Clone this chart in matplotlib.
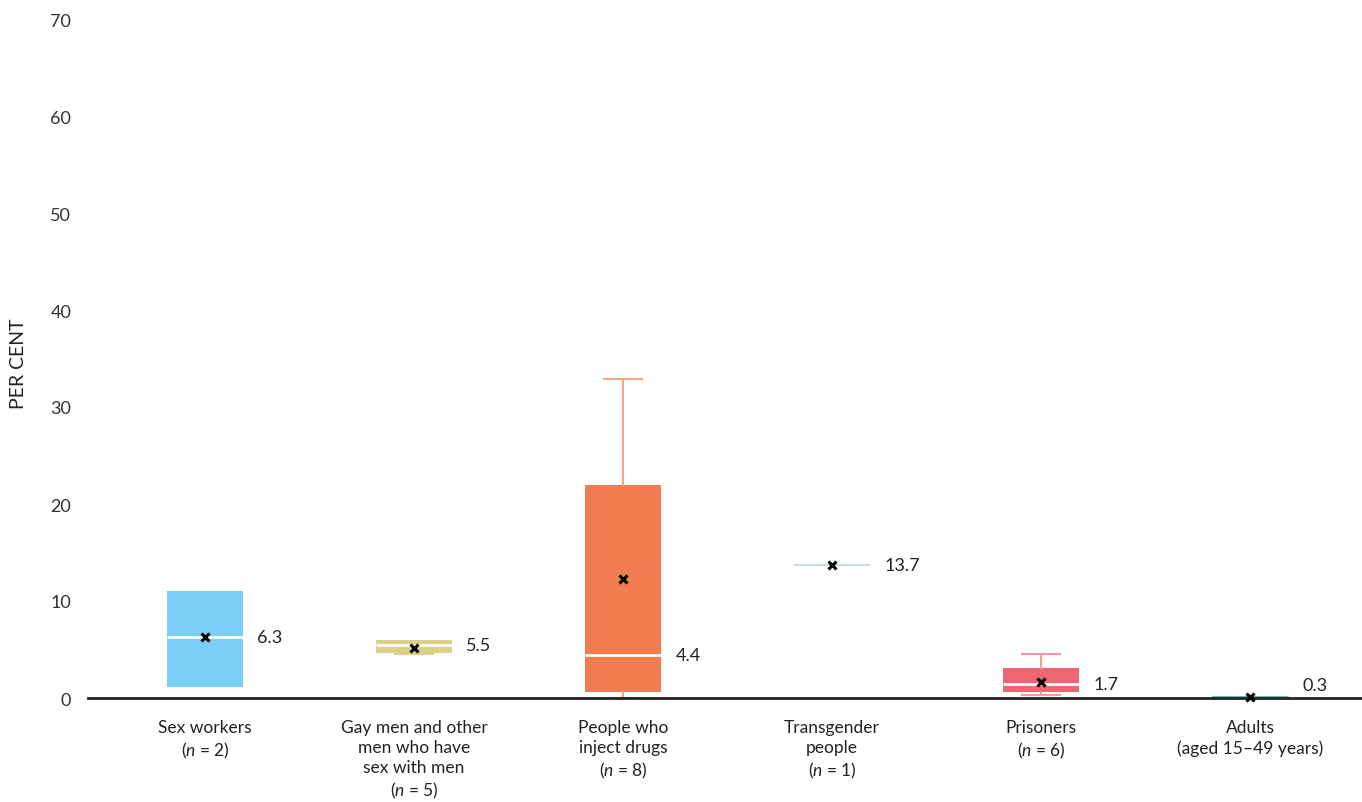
import matplotlib
matplotlib.use("Agg")
import matplotlib.pyplot as plt
import numpy as np

plt.rcParams['font.family'] = ['Lato', 'DejaVu Sans']
plt.rcParams['mathtext.fontset'] = 'custom'
plt.rcParams['mathtext.it'] = 'Lato:italic'
plt.rcParams['mathtext.rm'] = 'Lato'

categories = ["Sex workers\n($\\it{n}$ = 2)",
              "Gay men and other\nmen who have\nsex with men\n($\\it{n}$ = 5)",
              "People who\ninject drugs\n($\\it{n}$ = 8)",
              "Transgender\npeople\n($\\it{n}$ = 1)",
              "Prisoners\n($\\it{n}$ = 6)",
              "Adults\n(aged 15–49 years)"]
whislo = [1.1, 4.5, 0.0, 13.7, 0.3, 0.15]
q1     = [1.1, 4.6, 0.6, 13.7, 0.6, 0.15]
med    = [6.3, 5.5, 4.4, 13.7, 1.4, 0.15]
means  = [6.3, 5.2, 12.3, 13.7, 1.6, 0.15]
q3     = [11.0, 6.0, 22.0, 13.7, 3.1, 0.15]
whishi = [11.0, 6.0, 32.9, 13.7, 4.5, 0.15]
med_labels = ["6.3", "5.5", "4.4", "13.7", "1.7", "0.3"]

box_colors = ["#7acdf4", "#d9d089", "#f07c4f", "#c9dde0", "#ee6672", "#5dbbb5"]
whisk_colors = ["#7acdf4", "#d9d089", "#f4a58a", "#c9dde0", "#f29aa2", "#5dbbb5"]

fig = plt.figure(figsize=(13.62, 8.03), dpi=100)
ax = fig.add_axes([88/1362, (803-708.7)/803, 1-88/1362, (708.7-0.6)/803])

stats = []
for i in range(len(categories)):
    stats.append(dict(whislo=whislo[i], q1=q1[i], med=med[i], mean=means[i],
                      q3=q3[i], whishi=whishi[i], fliers=[], label=categories[i]))

pos = np.arange(len(categories))
bp = ax.bxp(stats, positions=pos, widths=0.364, capwidths=0.18, patch_artist=True,
            showmeans=True, showfliers=False,
            meanprops=dict(marker='x', markeredgecolor='black', markersize=6,
                           markeredgewidth=2.2),
            medianprops=dict(color='white', linewidth=2))

for i in range(len(categories)):
    b = bp['boxes'][i]
    b.set_facecolor(box_colors[i])
    b.set_edgecolor(box_colors[i])
    b.set_linewidth(1.2 if i in (3, 5) else 0)
    b.set_clip_on(False)
    for k in (2*i, 2*i+1):
        bp['whiskers'][k].set_color(whisk_colors[i])
        bp['whiskers'][k].set_linewidth(1.5)
        bp['caps'][k].set_color(whisk_colors[i])
        bp['caps'][k].set_linewidth(1.5)
        bp['caps'][k].set_clip_on(False)
        bp['whiskers'][k].set_clip_on(False)
    if i in (0, 3, 5):
        bp['caps'][2*i].set_visible(False)
        bp['caps'][2*i+1].set_visible(False)
    if i == 1:
        bp['caps'][2*i+1].set_visible(False)
    if i in (3, 5):
        bp['medians'][i].set_color(box_colors[i])
        bp['medians'][i].set_linewidth(1.2 if i == 3 else 2)
    bp['medians'][i].set_clip_on(False)
    bp['means'][i].set_clip_on(False)
    bp['means'][i].set_zorder(5)
    ax.text(pos[i] + 0.25, max(med[i], 1.3), med_labels[i], ha='left', va='center',
            fontsize=13, color='#222222')

ax.set_xlim(-0.56, 5.536)
ax.set_ylim(-1, 72)
ax.set_yticks(np.arange(0, 71, 10))
ax.tick_params(axis='y', length=0, pad=12, labelsize=13, labelcolor='#333333')
ax.tick_params(axis='x', length=0, pad=15, labelsize=12.5, labelcolor='#222222')
for s in ('top', 'right', 'left'):
    ax.spines[s].set_visible(False)
ax.spines['bottom'].set_position(('data', 0))
ax.spines['bottom'].set_color('#222222')
ax.spines['bottom'].set_linewidth(2)
ax.set_xticks(pos)
ax.set_xticklabels(categories, linespacing=1.32)

fig.text(19/1362, (803-364)/803, "PER CENT", rotation=90,
         ha='center', va='center', fontsize=14, color='#222222')

fig.savefig("out.png", dpi=100)
